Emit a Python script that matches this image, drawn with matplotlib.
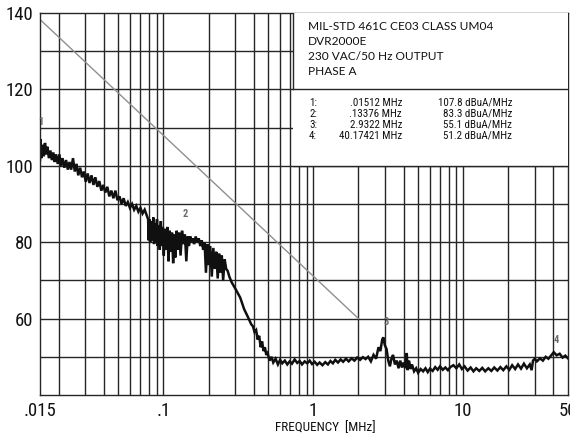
import matplotlib
matplotlib.use("Agg")
import matplotlib.pyplot as plt
from matplotlib import font_manager
from matplotlib.patches import Rectangle

# ---------------- data ----------------
freq_mhz = [
    0.0150, 0.0151, 0.0153, 0.0156, 0.0159, 0.0162, 0.0165, 0.0168, 0.0172, 0.0176,
    0.0180, 0.0184, 0.0188, 0.0192, 0.0197, 0.0202, 0.0207, 0.0212, 0.0218, 0.0224,
    0.0230, 0.0236, 0.0242, 0.0249, 0.0256, 0.0263, 0.0270, 0.0278, 0.0286, 0.0294,
    0.0303, 0.0312, 0.0321, 0.0331, 0.0341, 0.0351, 0.0362, 0.0373, 0.0385, 0.0397,
    0.0409, 0.0422, 0.0435, 0.0449, 0.0463, 0.0478, 0.0493, 0.0509, 0.0525, 0.0542,
    0.0560, 0.0578, 0.0597, 0.0617, 0.0637, 0.0658, 0.0680, 0.0702, 0.0725, 0.0749,
    0.0774, 0.0790,
    0.0795, 0.0805, 0.0815, 0.0830, 0.0840, 0.0855, 0.0865, 0.0880, 0.0890, 0.0905,
    0.0915, 0.0930, 0.0945, 0.0960, 0.0975, 0.0990, 0.1005, 0.1020, 0.1040, 0.1060,
    0.1080, 0.1100, 0.1120, 0.1140, 0.1160, 0.1180, 0.1200, 0.1225, 0.1250, 0.1275,
    0.1300, 0.1330, 0.1360, 0.1390, 0.1420, 0.1450, 0.1480, 0.1510, 0.1540, 0.1570,
    0.1600, 0.1640, 0.1680, 0.1720, 0.1760, 0.1800, 0.1840, 0.1880, 0.1920, 0.1960,
    0.2000, 0.2050, 0.2100, 0.2150, 0.2200, 0.2250, 0.2300, 0.2350, 0.2400, 0.2450,
    0.2500, 0.2560, 0.2620, 0.2680, 0.2750,
    0.285, 0.295, 0.305, 0.315, 0.325, 0.335, 0.345, 0.355, 0.365, 0.375,
    0.385, 0.395, 0.405, 0.415, 0.425, 0.435, 0.445, 0.455, 0.465, 0.475,
    0.485, 0.495, 0.51, 0.525, 0.54, 0.56, 0.58,
    0.60, 0.62, 0.645, 0.67, 0.695, 0.72, 0.75, 0.78, 0.81, 0.84,
    0.875, 0.91, 0.945, 0.98, 1.02, 1.06, 1.10, 1.15, 1.20, 1.25,
    1.30, 1.35, 1.40, 1.46, 1.52, 1.58, 1.65, 1.72, 1.80, 1.88,
    1.96, 2.05, 2.14, 2.23, 2.32, 2.42, 2.52, 2.62, 2.72, 2.80,
    2.88, 2.93, 3.00, 3.08, 3.16, 3.24, 3.32, 3.40, 3.50, 3.60,
    3.70, 3.80, 3.90, 4.00, 4.10, 4.20, 4.25, 4.35, 4.45, 4.55,
    4.70, 4.85, 5.00, 5.20, 5.40, 5.60, 5.80, 6.00, 6.25, 6.50,
    6.75, 7.00, 7.30, 7.60, 7.90, 8.20, 8.60, 9.00, 9.40, 9.80,
    10.2, 10.7, 11.2, 11.7, 12.2, 12.8, 13.4, 14.0, 14.7, 15.4,
    16.1, 16.9, 17.7, 18.5, 19.4, 20.3, 21.2, 22.2, 23.2, 24.3,
    25.4, 26.6, 27.8, 28.6, 29.2, 30.0, 31.0, 32.5, 34.0, 35.5,
    37.0, 38.5, 40.17, 42.0, 44.0, 46.0, 48.0, 50.0,
]
level_dbua = [
    101.5, 107.0, 102.0, 105.5, 102.5, 106.0, 103.0, 105.0, 102.0, 104.0,
    101.5, 103.5, 101.0, 103.0, 100.5, 103.0, 100.0, 102.0, 99.5, 101.5,
    99.0, 101.0, 99.0, 102.0, 98.5, 100.5, 97.5, 99.5, 97.0, 98.5,
    95.8, 98.0, 95.5, 97.5, 95.0, 97.0, 94.5, 96.0, 93.5, 95.0,
    93.0, 94.5, 92.0, 93.5, 91.5, 93.5, 91.0, 92.0, 90.0, 91.5,
    89.5, 90.5, 89.0, 90.0, 88.5, 89.5, 88.0, 89.0, 87.5, 88.5,
    87.0, 86.0,
    80.5, 86.0, 80.0, 85.5, 80.5, 86.5, 79.5, 85.0, 80.0, 86.0,
    79.0, 84.5, 78.0, 85.5, 79.0, 84.0, 76.5, 83.5, 78.0, 84.0,
    75.0, 83.0, 77.5, 82.5, 74.5, 82.0, 76.0, 83.0, 78.0, 82.5,
    76.5, 83.0, 79.5, 82.0, 75.0, 81.5, 79.0, 81.5, 80.0, 81.0,
    79.5, 81.5, 80.0, 81.0, 79.0, 80.5, 78.0, 80.0, 72.0, 79.5,
    74.0, 79.0, 71.0, 78.5, 73.0, 77.5, 70.5, 77.0, 72.0, 76.5,
    70.0, 75.5, 73.0, 72.5, 71.0,
    69.5, 68.5, 67.5, 66.5, 65.5, 64.0, 62.5, 61.5, 60.5, 59.5,
    58.5, 58.0, 56.5, 57.0, 54.5, 55.5, 52.5, 54.0, 51.5, 52.5,
    50.5, 51.0, 49.0, 50.0, 48.5, 49.5, 48.0,
    49.2, 48.3, 49.0, 48.0, 48.8, 48.2, 49.3, 48.4, 48.9, 48.0,
    48.8, 48.3, 49.0, 48.1, 48.7, 47.9, 48.5, 47.8, 48.6, 48.0,
    48.9, 48.3, 49.2, 48.5, 49.3, 48.7, 49.5, 48.8, 49.6, 49.0,
    49.8, 49.2, 49.9, 49.4, 50.0, 48.8, 50.5, 49.5, 52.5, 51.5,
    54.5, 55.1, 53.0, 52.0, 49.0, 47.5, 49.5, 50.5, 48.0, 49.0,
    47.0, 49.0, 47.2, 48.5, 47.0, 51.0, 46.5, 49.0, 46.8, 48.0,
    46.2, 47.0, 45.8, 46.8, 46.2, 47.0, 46.0, 46.9, 46.3, 47.3,
    46.6, 47.5, 46.6, 47.2, 46.5, 47.3, 47.8, 47.0, 48.0, 46.8,
    47.5, 46.4, 47.2, 46.2, 47.0, 46.3, 47.1, 46.2, 47.0, 46.3,
    47.2, 46.4, 47.3, 46.5, 47.5, 46.6, 47.8, 46.8, 48.0, 46.9,
    48.2, 47.0, 48.0, 46.5, 49.0, 49.5, 48.8, 49.6, 49.0, 50.0,
    49.5, 50.3, 51.2, 50.4, 50.8, 49.8, 50.3, 49.6,
]

limit_freq = [0.015, 2.0]
limit_level = [138.3, 60.0]

xtick_vals = [0.015, 0.1, 1, 10, 50]
xtick_labels = [".015", ".1", "1", "10", "50"]
ytick_vals = [60, 80, 100, 120, 140]

header_lines = ["MIL-STD 461C CE03 CLASS UM04", "DVR2000E",
                "230 VAC/50 Hz OUTPUT", "PHASE A"]
marker_ids = ["1:", "2:", "3:", "4:"]
marker_freqs = [".01512 MHz", ".13376 MHz", "2.9322 MHz", "40.17421 MHz"]
marker_levels = ["107.8 dBuA/MHz", "83.3 dBuA/MHz", "55.1 dBuA/MHz", "51.2 dBuA/MHz"]
marker_tags = ["1", "2", "3", "4"]
marker_tag_x = [0.0153, 0.14, 3.05, 41.5]
marker_tag_y = [111.5, 87.5, 59.0, 54.5]

# ---------------- fonts ----------------
names = {f.name for f in font_manager.fontManager.ttflist}
def pick(*cands):
    for c in cands:
        if c in names:
            return c
    return "DejaVu Sans"
COND = pick("Liberation Sans Narrow", "DejaVu Sans Condensed", "Roboto Condensed")
HEAD = pick("Lato", "DejaVu Sans")

# ---------------- figure ----------------
fig = plt.figure(figsize=(5.70, 4.38), dpi=100)
ax = fig.add_axes([40 / 570, (438 - 395) / 438, 528 / 570, 382 / 438])
ax.set_xscale("log")
ax.set_xlim(0.015, 50)
ax.set_ylim(40, 140)

gcol = "#262626"
# grid
for dec in [0.01, 0.1, 1, 10]:
    for m in range(1, 10):
        v = dec * m
        if 0.015 < v < 50:
            ax.axvline(v, color=gcol, lw=1.0, zorder=1)
for yv in range(50, 140, 10):
    ax.axhline(yv, color=gcol, lw=1.0, zorder=1)

for s in ax.spines.values():
    s.set_color(gcol)
    s.set_linewidth(1.0)

# limit line
ax.plot(limit_freq, limit_level, color="#8f8f8f", lw=1.0, zorder=2)
# measured trace
ax.plot(freq_mhz, level_dbua, color="#101010", lw=1.8, zorder=2.2,
        solid_joinstyle="miter")

# marker tags
for t, x, y in zip(marker_tags, marker_tag_x, marker_tag_y):
    ax.text(x, y, t, color="#6a6a6a", fontsize=7.5, ha="center", va="center",
            family=[COND, "DejaVu Sans"], fontweight="bold", zorder=3)

# info box
bx0 = (293 - 40) / 528
ax.add_patch(Rectangle((bx0, 0.6), 1 - bx0, 0.4, transform=ax.transAxes,
                       facecolor="white", edgecolor="none", zorder=3))
ax.plot([bx0, bx0], [0.8, 1.0], transform=ax.transAxes, color=gcol, lw=1.0, zorder=3.1)
ax.plot([bx0, 1.0], [0.8, 0.8], transform=ax.transAxes, color=gcol, lw=1.0, zorder=3.1)
ax.plot([bx0, 1.0], [0.6, 0.6], transform=ax.transAxes, color=gcol, lw=1.0, zorder=3.1)

hx = (308 - 40) / 528
for i, line in enumerate(header_lines):
    yy = 140 - ((27 + 14.8 * i) - 13) / 3.82
    ax.text(hx, (yy - 40) / 100, line, transform=ax.transAxes, fontsize=8.6,
            family=[HEAD, "DejaVu Sans"], ha="left", va="center", color="#111111", zorder=4)

row_px = [102.5, 113.6, 124.7, 135.8]
for mid, mf, ml, rp in zip(marker_ids, marker_freqs, marker_levels, row_px):
    yy = (140 - (rp - 13) / 3.82 - 40) / 100
    ax.text((309 - 40) / 528, yy, mid, transform=ax.transAxes, fontsize=7.9,
            family=[COND, "DejaVu Sans"], ha="left", va="center", color="#111111", zorder=4)
    ax.text((402 - 40) / 528, yy, mf, transform=ax.transAxes, fontsize=7.9,
            family=[COND, "DejaVu Sans"], ha="right", va="center", color="#111111", zorder=4)
    ax.text((512 - 40) / 528, yy, ml, transform=ax.transAxes, fontsize=7.9,
            family=[COND, "DejaVu Sans"], ha="right", va="center", color="#111111", zorder=4)

# ticks
ax.set_xticks(xtick_vals)
ax.set_xticklabels(xtick_labels)
ax.xaxis.set_minor_locator(matplotlib.ticker.NullLocator())
ax.set_yticks(ytick_vals)
ax.tick_params(length=0, labelsize=13.5, pad=5, colors="#111111")
for lab in ax.get_xticklabels() + ax.get_yticklabels():
    lab.set_family([COND, "DejaVu Sans"])

fig.text(325 / 570, 1 - 428 / 438, "FREQUENCY  [MHz]", ha="center", va="center",
         fontsize=9.5, family=[COND, "DejaVu Sans"], color="#111111")

fig.savefig("out.png", dpi=100)
